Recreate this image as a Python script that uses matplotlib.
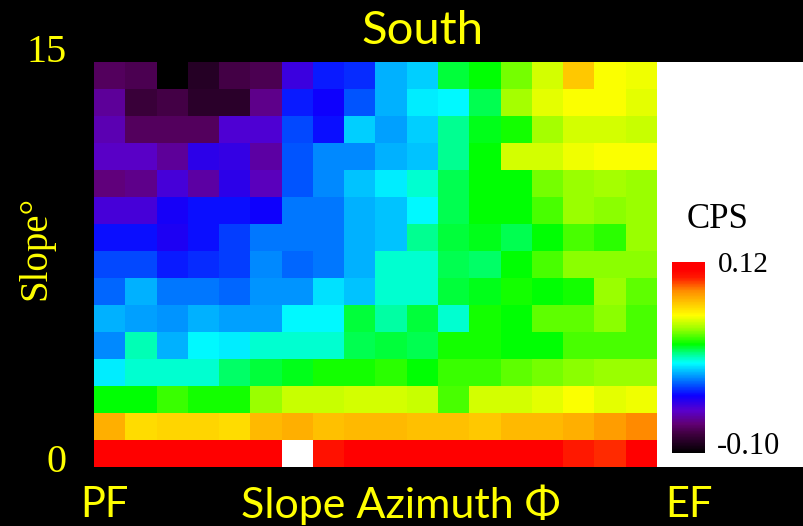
import numpy as np
import matplotlib
matplotlib.use("Agg")
from matplotlib import pyplot as plt
from matplotlib.colors import LinearSegmentedColormap
from matplotlib.patches import Rectangle
from matplotlib.transforms import offset_copy

# CPS per cell, rows from top (slope 15) down to slope 0, columns PF -> EF
cps_rows = [
    [-0.071, -0.074, -0.100, -0.087, -0.076, -0.074, -0.045, -0.030, -0.027, -0.008, -0.003, 0.021, 0.025, 0.039, 0.052, 0.072, 0.058, 0.056],
    [-0.060, -0.080, -0.076, -0.085, -0.085, -0.063, -0.030, -0.034, -0.021, -0.008, 0.001, 0.003, 0.019, 0.045, 0.054, 0.058, 0.058, 0.054],
    [-0.056, -0.071, -0.071, -0.071, -0.049, -0.049, -0.023, -0.032, -0.003, -0.010, -0.003, 0.014, 0.023, 0.028, 0.045, 0.052, 0.052, 0.050],
    [-0.052, -0.052, -0.060, -0.041, -0.043, -0.058, -0.021, -0.014, -0.014, -0.008, -0.005, 0.014, 0.025, 0.052, 0.052, 0.056, 0.058, 0.058],
    [-0.065, -0.063, -0.047, -0.058, -0.041, -0.054, -0.021, -0.014, -0.005, 0.001, 0.008, 0.019, 0.025, 0.025, 0.039, 0.043, 0.045, 0.043],
    [-0.047, -0.047, -0.036, -0.032, -0.032, -0.034, -0.016, -0.016, -0.008, -0.005, 0.003, 0.019, 0.025, 0.025, 0.034, 0.043, 0.041, 0.043],
    [-0.032, -0.032, -0.038, -0.032, -0.025, -0.016, -0.016, -0.016, -0.008, -0.005, 0.014, 0.021, 0.023, 0.019, 0.025, 0.034, 0.030, 0.043],
    [-0.023, -0.023, -0.030, -0.027, -0.025, -0.014, -0.019, -0.016, -0.008, 0.008, 0.008, 0.019, 0.017, 0.025, 0.034, 0.041, 0.041, 0.041],
    [-0.019, -0.008, -0.016, -0.016, -0.019, -0.012, -0.012, -0.001, -0.005, 0.008, 0.008, 0.021, 0.023, 0.028, 0.025, 0.028, 0.043, 0.036],
    [-0.008, -0.010, -0.012, -0.008, -0.010, -0.010, 0.003, 0.003, 0.021, 0.012, 0.021, 0.008, 0.028, 0.025, 0.036, 0.036, 0.041, 0.034],
    [-0.014, 0.010, -0.008, 0.003, 0.001, 0.008, 0.008, 0.008, 0.019, 0.021, 0.019, 0.028, 0.028, 0.025, 0.025, 0.034, 0.034, 0.034],
    [0.001, 0.008, 0.008, 0.008, 0.017, 0.021, 0.023, 0.028, 0.028, 0.030, 0.025, 0.032, 0.032, 0.036, 0.039, 0.041, 0.043, 0.043],
    [0.025, 0.025, 0.032, 0.028, 0.028, 0.043, 0.050, 0.050, 0.052, 0.052, 0.050, 0.034, 0.052, 0.052, 0.054, 0.058, 0.054, 0.056],
    [0.078, 0.067, 0.069, 0.069, 0.067, 0.076, 0.078, 0.074, 0.076, 0.076, 0.074, 0.074, 0.072, 0.076, 0.076, 0.078, 0.083, 0.087],
    [0.113, 0.113, 0.113, 0.113, 0.113, 0.113, np.nan, 0.105, 0.111, 0.111, 0.111, 0.111, 0.111, 0.111, 0.111, 0.102, 0.100, 0.111],
]
slope_ticks = [0, 15]
cps_min, cps_max = -0.10, 0.12

yellow = '#FFFF00'
sans = ['Lato', 'DejaVu Sans']
serif = ['Liberation Serif', 'DejaVu Serif']

cmap = LinearSegmentedColormap.from_list('cps', [
    (0.00, (0, 0, 0)),
    (0.10, (0.25, 0, 0.25)),
    (0.15, (0.38, 0, 0.45)),
    (0.22, (0.35, 0, 0.8)),
    (0.30, (0.05, 0, 1)),
    (0.36, (0, 0.35, 1)),
    (0.42, (0, 0.7, 1)),
    (0.47, (0, 1, 1)),
    (0.52, (0, 1, 0.55)),
    (0.57, (0, 1, 0)),
    (0.65, (0.6, 1, 0)),
    (0.72, (1, 1, 0)),
    (0.78, (1, 0.8, 0)),
    (0.85, (1, 0.55, 0)),
    (0.92, (1, 0.1, 0)),
    (0.96, (1, 0, 0)),
    (1.00, (1, 0, 0)),
])
cmap.set_bad('white')

data = np.array(cps_rows)
n_rows, n_cols = data.shape

fig = plt.figure(figsize=(8.04, 5.26), dpi=100, facecolor='black')
ax = fig.add_axes([94 / 804, 59 / 526, 563 / 804, 405 / 526])
ax.set_facecolor('black')

# white panel behind the colour bar
fig.patches.append(Rectangle((657 / 804, 59 / 526), 1 - 657 / 804, 405 / 526,
                             transform=fig.transFigure, facecolor='white',
                             edgecolor='none', zorder=-1))

im = ax.imshow(data, cmap=cmap, vmin=cps_min, vmax=cps_max, aspect='auto',
               interpolation='nearest', origin='upper',
               extent=[0, n_cols, 0, slope_ticks[-1]])
for s in ax.spines.values():
    s.set_visible(False)
ax.set_xticks([])
ax.set_yticks([])

# slope tick labels, nudged up a little like the original
for t, dy in zip(slope_ticks, [4, 9]):
    tr = offset_copy(ax.get_yaxis_transform(), fig=fig, x=-27, y=dy, units='dots')
    ax.text(0, t, str(t), transform=tr, family=serif, fontsize=29,
            color=yellow, ha='right', va='center')

fig.text(423 / 804, 1 - 31 / 526, 'South', family=sans, fontsize=34,
         color=yellow, ha='center', va='center')
fig.text(36 / 804, 1 - 248 / 526, 'Slope°', rotation=90, family=serif,
         fontsize=28, color=yellow, ha='center', va='center')
fig.text(104 / 804, 1 - 505 / 526, 'PF', family=sans, fontsize=30,
         color=yellow, ha='center', va='center')
fig.text(401 / 804, 1 - 505 / 526, 'Slope Azimuth Φ', family=sans,
         fontsize=31, color=yellow, ha='center', va='center')
fig.text(689 / 804, 1 - 505 / 526, 'EF', family=sans, fontsize=30,
         color=yellow, ha='center', va='center')

cax = fig.add_axes([672 / 804, 1 - 453 / 526, 33 / 804, 191 / 526])
cax.set_zorder(2)
cb = fig.colorbar(im, cax=cax)
cb.outline.set_visible(False)
cb.set_ticks([])
fig.text(718 / 804, 1 - 265 / 526, f'{cps_max:.2f}', family=serif,
         fontsize=21, color='black', ha='left', va='center', zorder=3)
fig.text(717 / 804, 1 - 447 / 526, f'{cps_min:.2f}', family=serif,
         fontsize=22, color='black', ha='left', va='center', zorder=3)
fig.text(718 / 804, 1 - 219 / 526, 'CPS', family=serif, fontsize=25,
         color='black', ha='center', va='center', zorder=3)

fig.savefig('out.png', dpi=100, facecolor='black')
